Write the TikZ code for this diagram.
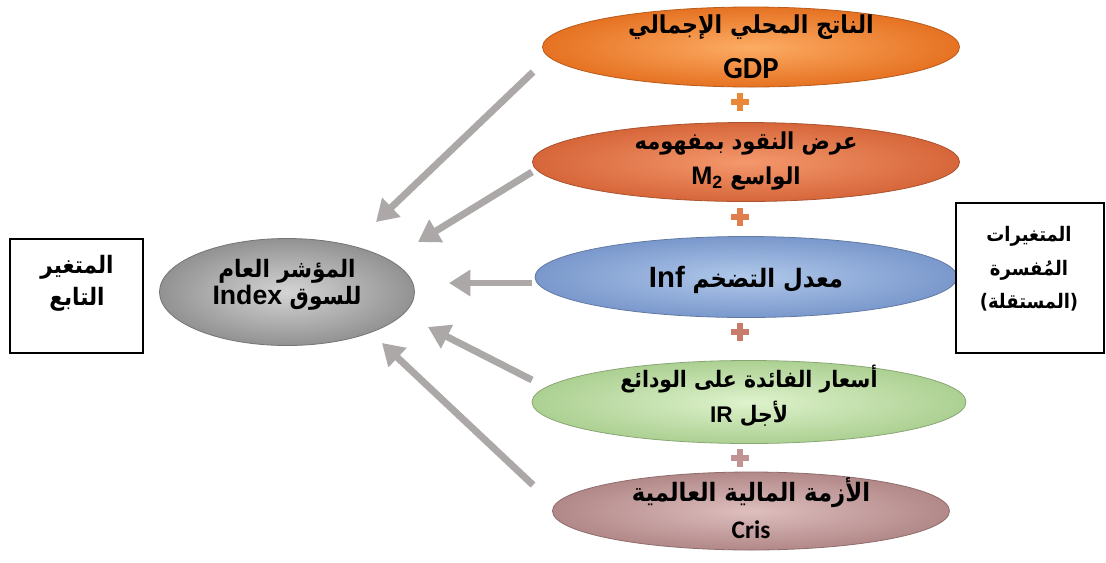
\documentclass[tikz,border=0pt]{standalone}
\usepackage{fontspec}
\usetikzlibrary{shapes.geometric,arrows.meta}
\TeXXeTstate=1
\newfontfamily\arfont[Script=Arabic,FakeStretch=0.9]{DejaVu Sans}
\newfontfamily\latfont{Liberation Sans}
\newfontfamily\calfont{Carlito}
\newcommand\artxt[1]{\beginR #1\endR}
\newcommand\lat[2]{\beginL{\latfont\bfseries\fontsize{#1}{#1}\selectfont #2}\endL}
\newcommand\arsize[2]{\arfont\bfseries\fontsize{#1}{#2}\selectfont}
\def\pxu{0.75pt}

\definecolor{gdpI}{RGB}{252,172,100}\definecolor{gdpO}{RGB}{230,114,34}
\definecolor{mtwoI}{RGB}{244,152,108}\definecolor{mtwoO}{RGB}{214,102,58}
\definecolor{infI}{RGB}{176,200,234}\definecolor{infO}{RGB}{122,152,204}
\definecolor{irI}{RGB}{222,242,204}\definecolor{irO}{RGB}{172,208,146}
\definecolor{crisI}{RGB}{222,190,190}\definecolor{crisO}{RGB}{178,136,136}
\definecolor{idxI}{RGB}{212,212,212}\definecolor{idxO}{RGB}{146,146,146}
\definecolor{arrowgray}{RGB}{172,168,168}
\definecolor{plusA}{RGB}{234,136,58}
\definecolor{plusB}{RGB}{224,126,78}
\definecolor{plusC}{RGB}{200,124,108}
\definecolor{plusD}{RGB}{192,148,148}

\tikzset{
  blob/.style={ellipse, inner sep=0pt, line width=0.6pt},
  blobtext/.style={align=center, inner sep=0pt},
  labelbox/.style={draw=black, line width=0.8pt, fill=white, inner sep=0pt},
  bigarrow/.style={draw=arrowgray, line width=5.2pt, -{Triangle[width=19pt,length=16pt]}},
  pics/plussign/.style={code={
    \fill[#1] (-2.8,-9) rectangle (2.8,9);
    \fill[#1] (-9,-2.8) rectangle (9,2.8);}}
}

\begin{document}
\begin{tikzpicture}[x=0.75pt,y=-0.75pt]
  \useasboundingbox (0,0) rectangle (1106,562);
  \fill[white] (0,0) rectangle (1106,562);

  % explanatory variables: shaded ellipses
  \node[blob, draw=gdpO!80!black, inner color=gdpI, outer color=gdpO,
        minimum width=417*\pxu, minimum height=80*\pxu] (gdp) at (751,47) {};
  \node[blob, draw=mtwoO!80!black, inner color=mtwoI, outer color=mtwoO,
        minimum width=427*\pxu, minimum height=79*\pxu] (mtwo) at (746,162) {};
  \node[blob, draw=infO!80!black, inner color=infI, outer color=infO,
        minimum width=422*\pxu, minimum height=81*\pxu] (inf) at (746,277) {};
  \node[blob, draw=irO!80!black, inner color=irI, outer color=irO,
        minimum width=434*\pxu, minimum height=83*\pxu] (ir) at (749,402) {};
  \node[blob, draw=crisO!80!black, inner color=crisI, outer color=crisO,
        minimum width=397*\pxu, minimum height=78*\pxu] (cris) at (751,511) {};

  % dependent variable
  \node[blob, draw=idxO!80!black, inner color=idxI, outer color=idxO,
        minimum width=255*\pxu, minimum height=107*\pxu] (idx) at (287,292) {};

  % texts of the ellipses
  \node[blobtext, font=\arsize{18.5}{34}] (gdptext) at (751,47)
    {\artxt{الناتج المحلي الإجمالي}\\
     {\calfont\bfseries\fontsize{23}{23}\selectfont GDP}};
  \node[blobtext, font=\arsize{17.5}{26}] (mtwotext) at (746,161)
    {\artxt{عرض النقود بمفهومه}\\
     \artxt{الواسع \lat{19}{M\textsubscript{2}}}};
  \node[blobtext, font=\arsize{19}{26}] (inftext) at (746,280)
    {\artxt{معدل التضخم \lat{22}{Inf}}};
  \node[blobtext, font=\arsize{17}{26}] (irtext) at (749,396)
    {\artxt{أسعار الفائدة على الودائع}\\
     \artxt{لأجل \lat{17}{IR}}};
  \node[blobtext, font=\arsize{19}{28}] (cristext) at (751,508)
    {\artxt{الأزمة المالية العالمية}\\
     {\calfont\bfseries\fontsize{19}{19}\selectfont Cris}};
  \node[blobtext, font=\arsize{18}{20}] (idxtext) at (287,285)
    {\artxt{المؤشر العام}\\
     \artxt{للسوق \lat{20}{Index}}};

  % side labels
  \node[labelbox, minimum width=133*\pxu, minimum height=114*\pxu] (dep) at (76.5,296) {};
  \node[blobtext, font=\arsize{18}{24}] (deptext) at (77,283)
    {\artxt{المتغير}\\ \artxt{التابع}};
  \node[labelbox, minimum width=148*\pxu, minimum height=150*\pxu] (expl) at (1030,278) {};
  \node[blobtext, font=\arsize{15}{25}] (expltext) at (1029,269)
    {\artxt{المتغيرات}\\ \artxt{المُفسرة}\\ \artxt{(المستقلة)}};

  % plus signs between the variables
  \pic at (740,102) {plussign=plusA};
  \pic at (740,217) {plussign=plusB};
  \pic at (740,332) {plussign=plusC};
  \pic at (740,458) {plussign=plusD};

  % arrow ends
  \coordinate (s1) at (533,72);  \coordinate (e1) at (376,222);
  \coordinate (s2) at (532,172); \coordinate (e2) at (418,242);
  \coordinate (s3) at (532,283); \coordinate (e3) at (449,283);
  \coordinate (s4) at (532,380); \coordinate (e4) at (428,327);
  \coordinate (s5) at (533,485); \coordinate (e5) at (382,343);

  \draw[bigarrow] (s1) -- (e1);
  \draw[bigarrow] (s2) -- (e2);
  \draw[bigarrow] (s3) -- (e3);
  \draw[bigarrow] (s4) -- (e4);
  \draw[bigarrow] (s5) -- (e5);
\end{tikzpicture}
\end{document}
